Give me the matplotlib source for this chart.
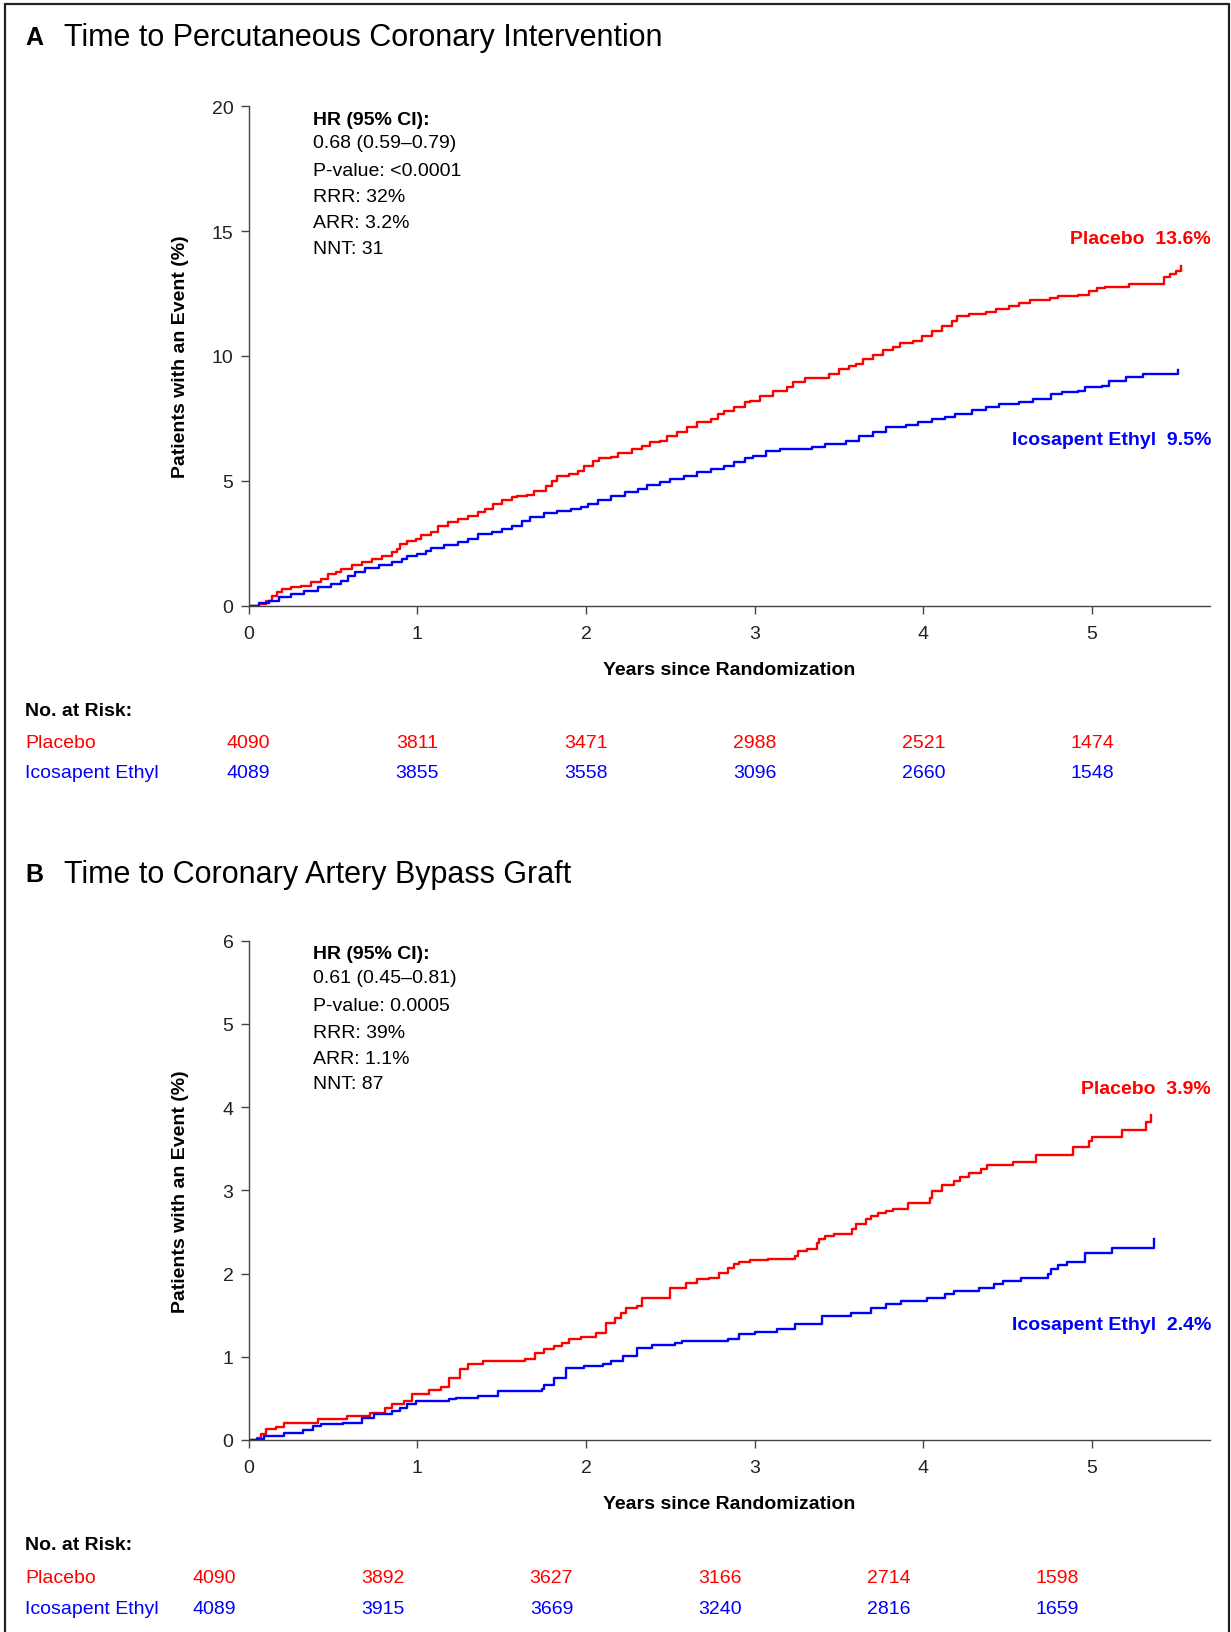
"""Kaplan-Meier style cumulative event curves: PCI and CABG panels."""

import matplotlib
matplotlib.use("Agg")
import matplotlib.pyplot as plt
import matplotlib.transforms as mtransforms
from matplotlib.patches import Rectangle

plt.rcParams["font.family"] = ["Liberation Sans", "DejaVu Sans"]

RED = "#FF0000"
BLUE = "#0000FF"

# --- Panel A: time to PCI (years, cumulative %) ---
a_pbo_t = [0, 0.06, 0.1, 0.14, 0.17, 0.2, 0.25, 0.31, 0.37, 0.43, 0.47, 0.52, 0.55, 0.61,
           0.67, 0.73, 0.79, 0.85, 0.88, 0.9, 0.94, 0.99, 1.02, 1.08, 1.12, 1.18, 1.24, 1.3,
           1.36, 1.4, 1.45, 1.5, 1.56, 1.59, 1.65, 1.69, 1.76, 1.8, 1.83, 1.9, 1.95, 1.99,
           2.04, 2.08, 2.15, 2.19, 2.27, 2.33, 2.38, 2.44, 2.48, 2.54, 2.6, 2.66, 2.74, 2.78,
           2.82, 2.88, 2.94, 2.97, 3.03, 3.11, 3.19, 3.23, 3.3, 3.44, 3.5, 3.56, 3.6, 3.64,
           3.7, 3.76, 3.82, 3.86, 3.94, 3.99, 4.05, 4.11, 4.17, 4.2, 4.27, 4.37, 4.43, 4.51,
           4.57, 4.63, 4.75, 4.8, 4.92, 4.98, 5.03, 5.08, 5.22, 5.43, 5.46, 5.5, 5.53]
a_pbo_v = [0, 0.07, 0.2, 0.4, 0.53, 0.67, 0.73, 0.77, 0.93, 1.07, 1.27, 1.34, 1.47, 1.63,
           1.74, 1.87, 1.98, 2.14, 2.27, 2.47, 2.6, 2.67, 2.83, 2.96, 3.2, 3.34, 3.47, 3.6,
           3.77, 3.87, 4.07, 4.25, 4.34, 4.41, 4.43, 4.61, 4.81, 5.01, 5.21, 5.27, 5.41, 5.58,
           5.81, 5.9, 5.94, 6.11, 6.28, 6.41, 6.54, 6.61, 6.78, 6.94, 7.14, 7.34, 7.48, 7.68,
           7.81, 7.94, 8.14, 8.21, 8.41, 8.61, 8.74, 8.94, 9.12, 9.28, 9.48, 9.58, 9.68, 9.88,
           10.02, 10.22, 10.35, 10.52, 10.61, 10.79, 11.01, 11.21, 11.41, 11.59, 11.68, 11.75,
           11.88, 12.02, 12.12, 12.26, 12.31, 12.39, 12.44, 12.62, 12.71, 12.78, 12.88, 13.15,
           13.28, 13.42, 13.62]
a_ice_t = [0, 0.06, 0.12, 0.18, 0.25, 0.33, 0.41, 0.49, 0.55, 0.59, 0.63, 0.69, 0.77, 0.85,
           0.91, 0.94, 1.0, 1.05, 1.08, 1.16, 1.24, 1.3, 1.36, 1.44, 1.5, 1.56, 1.62, 1.67,
           1.75, 1.83, 1.91, 1.97, 2.01, 2.07, 2.15, 2.23, 2.31, 2.36, 2.44, 2.5, 2.58, 2.66,
           2.74, 2.82, 2.88, 2.94, 2.99, 3.07, 3.15, 3.34, 3.42, 3.54, 3.62, 3.7, 3.78, 3.9,
           3.97, 4.05, 4.13, 4.19, 4.29, 4.37, 4.45, 4.57, 4.65, 4.76, 4.82, 4.92, 4.96, 5.06,
           5.1, 5.2, 5.3, 5.51]
a_ice_v = [0, 0.11, 0.2, 0.33, 0.47, 0.6, 0.73, 0.87, 1.0, 1.2, 1.34, 1.5, 1.63, 1.74,
           1.87, 2.0, 2.07, 2.2, 2.3, 2.43, 2.54, 2.67, 2.87, 2.94, 3.07, 3.2, 3.4, 3.54,
           3.71, 3.81, 3.87, 3.94, 4.07, 4.25, 4.38, 4.54, 4.67, 4.83, 4.97, 5.07, 5.21, 5.34,
           5.47, 5.61, 5.74, 5.9, 6.01, 6.21, 6.28, 6.34, 6.48, 6.61, 6.81, 6.97, 7.14, 7.24,
           7.37, 7.48, 7.55, 7.68, 7.82, 7.95, 8.08, 8.17, 8.28, 8.48, 8.57, 8.61, 8.75, 8.81,
           9.01, 9.15, 9.28, 9.45]

# --- Panel B: time to CABG ---
b_pbo_t = [0, 0.05, 0.07, 0.1, 0.16, 0.21, 0.41, 0.58, 0.72, 0.81, 0.85, 0.92, 0.97, 1.07,
           1.14, 1.19, 1.25, 1.3, 1.39, 1.64, 1.7, 1.75, 1.81, 1.86, 1.9, 1.97, 2.06, 2.12,
           2.17, 2.21, 2.24, 2.3, 2.33, 2.5, 2.59, 2.66, 2.73, 2.79, 2.84, 2.88, 2.91, 2.97,
           3.08, 3.24, 3.26, 3.31, 3.37, 3.38, 3.42, 3.47, 3.58, 3.6, 3.66, 3.69, 3.73, 3.78,
           3.82, 3.91, 4.04, 4.05, 4.11, 4.18, 4.22, 4.27, 4.34, 4.38, 4.53, 4.67, 4.89,
           4.98, 5.0, 5.18, 5.32, 5.35]
b_pbo_v = [0, 0.03, 0.07, 0.13, 0.16, 0.2, 0.25, 0.29, 0.33, 0.39, 0.43, 0.47, 0.55, 0.6,
           0.64, 0.75, 0.85, 0.91, 0.95, 0.97, 1.05, 1.09, 1.13, 1.17, 1.21, 1.24, 1.29, 1.4,
           1.47, 1.53, 1.59, 1.61, 1.71, 1.83, 1.89, 1.93, 1.95, 2.01, 2.07, 2.11, 2.14, 2.16,
           2.18, 2.21, 2.27, 2.29, 2.37, 2.41, 2.45, 2.48, 2.53, 2.59, 2.65, 2.69, 2.73, 2.75,
           2.78, 2.85, 2.91, 2.99, 3.07, 3.11, 3.16, 3.21, 3.26, 3.3, 3.34, 3.42, 3.52,
           3.59, 3.64, 3.72, 3.82, 3.91]
b_ice_t = [0, 0.05, 0.09, 0.21, 0.32, 0.38, 0.43, 0.56, 0.67, 0.74, 0.85, 0.9, 0.94, 0.99,
           1.19, 1.23, 1.36, 1.48, 1.74, 1.75, 1.81, 1.88, 1.99, 2.1, 2.15, 2.22, 2.3, 2.39,
           2.53, 2.57, 2.84, 2.91, 3.0, 3.13, 3.24, 3.4, 3.57, 3.69, 3.78, 3.87, 4.02, 4.13,
           4.18, 4.33, 4.42, 4.47, 4.58, 4.74, 4.76, 4.8, 4.85, 4.96, 5.12, 5.37]
b_ice_v = [0, 0.01, 0.05, 0.08, 0.12, 0.17, 0.19, 0.21, 0.27, 0.31, 0.35, 0.39, 0.43, 0.47,
           0.49, 0.51, 0.53, 0.59, 0.61, 0.66, 0.75, 0.86, 0.89, 0.91, 0.95, 1.01, 1.11, 1.14,
           1.17, 1.19, 1.21, 1.27, 1.3, 1.33, 1.39, 1.49, 1.53, 1.59, 1.63, 1.67, 1.71, 1.75,
           1.79, 1.83, 1.87, 1.91, 1.95, 1.99, 2.05, 2.1, 2.14, 2.25, 2.31, 2.42]

risk_years = [0, 1, 2, 3, 4, 5]
a_risk_pbo = [4090, 3811, 3471, 2988, 2521, 1474]
a_risk_ice = [4089, 3855, 3558, 3096, 2660, 1548]
b_risk_pbo = [4090, 3892, 3627, 3166, 2714, 1598]
b_risk_ice = [4089, 3915, 3669, 3240, 2816, 1659]

a_stats = ["0.68 (0.59\u20130.79)", "P-value: <0.0001", "RRR: 32%", "ARR: 3.2%", "NNT: 31"]
b_stats = ["0.61 (0.45\u20130.81)", "P-value: 0.0005", "RRR: 39%", "ARR: 1.1%", "NNT: 87"]

W, H = 1231, 1633
fig = plt.figure(figsize=(W / 100, H / 100), dpi=100)
FS = 14


def fy(py):
    return 1 - py / H


def draw_panel(letter, title, title_y, rect, ymax, yticks,
               pbo_t, pbo_v, ice_t, ice_v, pbo_end, ice_end,
               stats, stats_y, end_y, risk_pbo, risk_ice, risk_y, risk_shift):
    fig.text(25 / W, fy(title_y), letter, fontsize=18, fontweight="bold", va="center")
    fig.text(64 / W, fy(title_y), title, fontsize=22, va="center")

    ax = fig.add_axes(rect)
    ax.step(pbo_t, pbo_v, where="post", color=RED, lw=1.7)
    ax.step(ice_t, ice_v, where="post", color=BLUE, lw=1.7)
    ax.set_xlim(0, 5.7)
    ax.set_ylim(0, ymax)
    ax.set_xticks(range(6))
    ax.set_yticks(yticks)
    for side in ("top", "right"):
        ax.spines[side].set_visible(False)
    for side in ("left", "bottom"):
        ax.spines[side].set_color("#444444")
        ax.spines[side].set_linewidth(1.0)
    ax.tick_params(axis="both", labelsize=FS, length=6, width=1.0, color="#444444",
                   labelcolor="#222222")
    ax.tick_params(axis="x", pad=8)
    ax.tick_params(axis="y", pad=5)
    ax.set_xlabel("Years since Randomization", fontsize=FS, fontweight="bold")
    ax.set_ylabel("Patients with an Event (%)", fontsize=FS, fontweight="bold")
    ax.xaxis.set_label_coords(0.5, -0.111)
    ax.yaxis.set_label_coords(-0.062, 0.5)

    # stats box
    fig.text(313 / W, fy(stats_y[0]), "HR (95% CI):", fontsize=FS, fontweight="bold",
             va="center")
    for s, yy in zip(stats, stats_y[1:]):
        fig.text(313 / W, fy(yy), s, fontsize=FS, va="center")

    # curve end labels
    fig.text(0.9838, fy(end_y[0]), f"Placebo  {pbo_end}", fontsize=14,
             fontweight="bold", color=RED, ha="right", va="center")
    fig.text(0.9838, fy(end_y[1]), f"Icosapent Ethyl  {ice_end}", fontsize=14,
             fontweight="bold", color=BLUE, ha="right", va="center")

    # number at risk table
    fig.text(25 / W, fy(risk_y[0]), "No. at Risk:", fontsize=FS, fontweight="bold",
             va="center")
    fig.text(25 / W, fy(risk_y[1]), "Placebo", fontsize=FS, color=RED, va="center")
    fig.text(25 / W, fy(risk_y[2]), "Icosapent Ethyl", fontsize=FS, color=BLUE, va="center")
    trans = mtransforms.blended_transform_factory(ax.transData, fig.transFigure)
    for yr, n1, n2 in zip(risk_years, risk_pbo, risk_ice):
        ax.text(yr + risk_shift, fy(risk_y[1]), str(n1), transform=trans, fontsize=FS,
                color=RED, ha="center", va="center", clip_on=False)
        ax.text(yr + risk_shift, fy(risk_y[2]), str(n2), transform=trans, fontsize=FS,
                color=BLUE, ha="center", va="center", clip_on=False)
    return ax


left, width = 248.7 / W, (1210 - 248.7) / W

draw_panel("A", "Time to Percutaneous Coronary Intervention", 38,
           [left, fy(606.7), width, (606.7 - 107.2) / H], 20, [0, 5, 10, 15, 20],
           a_pbo_t, a_pbo_v, a_ice_t, a_ice_v, "13.6%", "9.5%",
           a_stats, [120.5, 143.5, 171.5, 197.5, 223.5, 249.5], [239, 441],
           a_risk_pbo, a_risk_ice, [712, 743, 774], 0.0)

draw_panel("B", "Time to Coronary Artery Bypass Graft", 875,
           [left, fy(1441), width, (1441 - 941.7) / H], 6, [0, 1, 2, 3, 4, 5, 6],
           b_pbo_t, b_pbo_v, b_ice_t, b_ice_v, "3.9%", "2.4%",
           b_stats, [955, 979, 1007, 1033, 1059, 1085], [1090, 1326],
           b_risk_pbo, b_risk_ice, [1546, 1579, 1610], -0.205)

# outer frame
fig.patches.append(Rectangle((5 / W, -0.01), (1229 - 5) / W, 1.01 - 5 / H,
                             transform=fig.transFigure, fill=False,
                             edgecolor="#222222", lw=1.6))

fig.savefig("out.png", dpi=100)
